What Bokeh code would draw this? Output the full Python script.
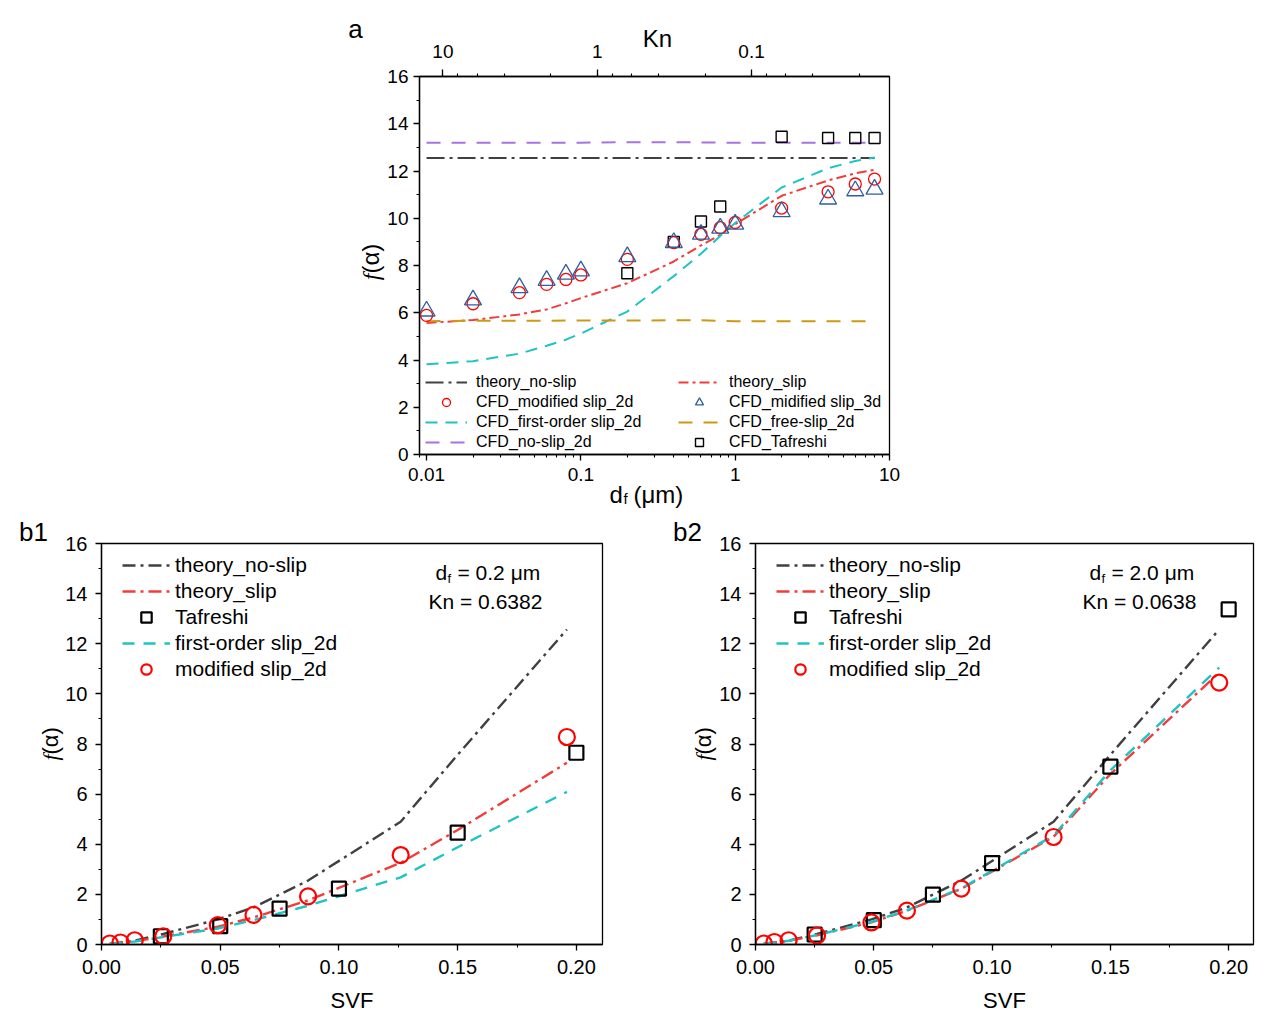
import math
from bokeh.plotting import figure
from bokeh.models import (Range1d, LogAxis, LogScale, Label, Legend, LegendItem,
                          CustomJSTickFormatter, NumeralTickFormatter,
                          SingleIntervalTicker, LogTicker)
from bokeh.layouts import column, row
from bokeh.embed import file_html
from bokeh.resources import INLINE

FONT = "Liberation Sans"
SERIF = "Liberation Serif"

GRAY = "#404040"
RED_L = "#F23C3C"
RED_M = "#FF0000"
CYAN = "#1EC3C3"
PURPLE = "#A673E0"
GOLD = "#CC9A12"
BLUE = "#2F5F9E"

# ---------------- data: panel a ----------------
df_line = [0.01, 0.02, 0.04, 0.06, 0.08, 0.1, 0.2, 0.4, 0.6, 0.8, 1.0, 2.0, 4.0, 6.0, 8.0]
theory_noslip_a = [12.55, 12.55, 12.55, 12.55, 12.55, 12.55, 12.55, 12.55, 12.55, 12.55, 12.55, 12.55, 12.55, 12.55, 12.55]
theory_slip_a = [5.57, 5.69, 5.93, 6.14, 6.40, 6.62, 7.25, 8.17, 8.85, 9.30, 9.75, 10.95, 11.60, 11.90, 12.05]
first_order_a = [3.82, 3.95, 4.27, 4.60, 4.86, 5.12, 6.05, 7.55, 8.50, 9.25, 9.80, 11.30, 12.12, 12.42, 12.57]
noslip_2d_a = [13.20, 13.20, 13.20, 13.20, 13.20, 13.20, 13.22, 13.22, 13.21, 13.20, 13.20, 13.20, 13.20, 13.20, 13.20]
freeslip_2d_a = [5.64, 5.66, 5.66, 5.66, 5.67, 5.67, 5.67, 5.68, 5.68, 5.66, 5.64, 5.64, 5.64, 5.64, 5.64]

df_pts = [0.01, 0.02, 0.04, 0.06, 0.08, 0.1, 0.2, 0.4, 0.6, 0.8, 1.0, 2.0, 4.0, 6.0, 8.0]
modified_2d_a = [5.89, 6.38, 6.85, 7.20, 7.41, 7.60, 8.26, 8.97, 9.32, 9.60, 9.82, 10.43, 11.12, 11.45, 11.66]
modified_3d_a = [6.07, 6.54, 7.06, 7.37, 7.63, 7.77, 8.37, 8.97, 9.32, 9.58, 9.75, 10.28, 10.81, 11.16, 11.23]

df_taf = [0.2, 0.4, 0.6, 0.8, 2.0, 4.0, 6.0, 8.0]
tafreshi_a = [7.67, 9.00, 9.86, 10.50, 13.45, 13.40, 13.40, 13.40]

KN_FACTOR = 0.1276  # Kn = KN_FACTOR / d_f
X_A = (0.009, 10.0)

# ---------------- data: panels b1, b2 ----------------
svf_theory = [0.0035, 0.008, 0.014, 0.026, 0.049, 0.064, 0.087, 0.126, 0.15, 0.196]
theory_noslip_b = [0.03, 0.08, 0.15, 0.42, 1.00, 1.48, 2.55, 4.90, 7.57, 12.57]
theory_slip_b1 = [0.03, 0.07, 0.13, 0.32, 0.71, 1.08, 1.76, 3.26, 4.57, 7.25]
first_order_b1 = [0.03, 0.06, 0.12, 0.30, 0.64, 0.97, 1.55, 2.68, 3.88, 6.09]
theory_slip_b2 = [0.03, 0.08, 0.15, 0.37, 0.88, 1.35, 2.22, 4.30, 6.80, 10.85]
first_order_b2 = [0.03, 0.08, 0.15, 0.38, 0.90, 1.36, 2.24, 4.35, 6.95, 11.05]

svf_mod = [0.0035, 0.008, 0.014, 0.026, 0.049, 0.064, 0.087, 0.126, 0.196]
modified_b1 = [0.04, 0.08, 0.17, 0.33, 0.77, 1.18, 1.92, 3.57, 8.28]
modified_b2 = [0.04, 0.10, 0.17, 0.36, 0.88, 1.35, 2.23, 4.29, 10.45]

svf_taf = [0.025, 0.05, 0.075, 0.10, 0.15, 0.20]
tafreshi_b1 = [0.33, 0.73, 1.43, 2.23, 4.46, 7.65]
tafreshi_b2 = [0.40, 0.97, 1.99, 3.25, 7.10, 13.37]

LOG_CODE = "return String(parseFloat(tick.toPrecision(6)));"


def style_axis(ax, size, tick_out=6, standoff=4):
    ax.axis_line_color = "black"
    ax.axis_line_width = 1.3
    ax.major_tick_line_color = "black"
    ax.major_tick_line_width = 1.3
    ax.minor_tick_line_color = "black"
    ax.minor_tick_line_width = 1.1
    ax.major_tick_in = 0
    ax.major_tick_out = tick_out
    ax.minor_tick_in = 0
    ax.minor_tick_out = 3
    ax.major_label_text_font = FONT
    ax.major_label_text_font_size = f"{size}px"
    ax.major_label_text_color = "black"
    ax.major_label_standoff = standoff


def lab(p, place, text, x, y, size, xu="screen", yu="screen", align="left",
        baseline="middle", angle=0.0, font=FONT, style="normal"):
    lbl = Label(x=x, y=y, x_units=xu, y_units=yu, text=text,
                text_font=font, text_font_size=f"{size}px",
                text_align=align, text_baseline=baseline, angle=angle,
                text_font_style=style, text_color="black")
    if place == "center":
        p.add_layout(lbl)
    else:
        p.add_layout(lbl, place)


def base_fig(fw, fh, left, right, top, bottom, **kw):
    p = figure(frame_width=fw, frame_height=fh, min_border_left=left,
               min_border_right=right, min_border_top=top, min_border_bottom=bottom,
               output_backend="svg", toolbar_location=None, **kw)
    p.xgrid.visible = False
    p.ygrid.visible = False
    p.outline_line_color = "black"
    p.outline_line_width = 1.3
    p.outline_line_alpha = 1.0
    p.background_fill_color = "white"
    p.border_fill_color = "white"
    return p


# ================= panel a =================
A_LEFT, A_FW, A_FH, A_BOTTOM_PX = 419, 470, 378, 454
pa = base_fig(A_FW, A_FH, A_LEFT, 380, 76, 59, x_axis_type="log",
              x_range=Range1d(*X_A), y_range=Range1d(0, 16))
pa.extra_x_ranges = {"kn": Range1d(start=KN_FACTOR / X_A[0], end=KN_FACTOR / X_A[1])}
pa.extra_x_scales = {"kn": LogScale()}
kn_axis = LogAxis(x_range_name="kn", ticker=LogTicker(),
                  formatter=CustomJSTickFormatter(code=LOG_CODE))
pa.add_layout(kn_axis, "above")

bottom_axis = pa.below[0]
bottom_axis.formatter = CustomJSTickFormatter(code=LOG_CODE)
pa.yaxis[0].ticker = SingleIntervalTicker(interval=2, num_minor_ticks=2)
style_axis(bottom_axis, 19, tick_out=6, standoff=7)
style_axis(kn_axis, 19, tick_out=7, standoff=12)
style_axis(pa.yaxis[0], 19, tick_out=6, standoff=5)


def xa(px):
    """screen pixel (page x) -> data x of panel a (log axis)"""
    l0, l1 = math.log10(X_A[0]), math.log10(X_A[1])
    return 10 ** (l0 + (px - A_LEFT) / A_FW * (l1 - l0))


r_ns = pa.line(df_line, theory_noslip_a, line_color=GRAY, line_width=2, line_dash="18 5 3 5")
r_sl = pa.line(df_line, theory_slip_a, line_color=RED_L, line_width=2, line_dash="10 4 3 4")
r_fo = pa.line(df_line, first_order_a, line_color=CYAN, line_width=2, line_dash="12 8")
r_n2 = pa.line(df_line, noslip_2d_a, line_color=PURPLE, line_width=2, line_dash="14 11")
r_fs = pa.line(df_line, freeslip_2d_a, line_color=GOLD, line_width=2, line_dash="14 11")
r_tf = pa.scatter(df_taf, tafreshi_a, marker="square", size=11, fill_color=None,
                  line_color="black", line_width=1.4)
r_m2 = pa.scatter(df_pts, modified_2d_a, marker="circle", size=12, fill_color=None,
                  line_color=RED_M, line_width=1.3)
r_m3 = pa.scatter(df_pts, modified_3d_a, marker="triangle", size=17, fill_color=None,
                  line_color=BLUE, line_width=1.3)

leg_kw = dict(orientation="vertical", glyph_width=42, glyph_height=20, label_height=20,
              spacing=0, padding=0, margin=0, label_standoff=9,
              background_fill_alpha=0, border_line_color=None,
              label_text_font=FONT, label_text_font_size="16px", label_text_color="black")
leg_a1 = Legend(items=[LegendItem(label="theory_no-slip", renderers=[r_ns]),
                       LegendItem(label="CFD_modified slip_2d", renderers=[r_m2]),
                       LegendItem(label="CFD_first-order slip_2d", renderers=[r_fo]),
                       LegendItem(label="CFD_no-slip_2d", renderers=[r_n2])],
                location=(6, 2), **leg_kw)
leg_a2 = Legend(items=[LegendItem(label="theory_slip", renderers=[r_sl]),
                       LegendItem(label="CFD_midified slip_3d", renderers=[r_m3]),
                       LegendItem(label="CFD_free-slip_2d", renderers=[r_fs]),
                       LegendItem(label="CFD_Tafreshi", renderers=[r_tf])],
                location=(259, 2), **leg_kw)
pa.add_layout(leg_a1)
pa.add_layout(leg_a2)

# texts outside the frame (left side panel, x in data units, y relative to frame bottom)
lab(pa, "left", "a", xa(355), A_BOTTOM_PX - 28, 26, xu="data", align="center")
lab(pa, "left", "Kn", xa(657), A_BOTTOM_PX - 38, 24, xu="data", align="center")
lab(pa, "left", "d", xa(609), A_BOTTOM_PX - 494, 24, xu="data", baseline="alphabetic")
lab(pa, "left", "f", xa(623), A_BOTTOM_PX - 498, 15, xu="data", baseline="alphabetic")
lab(pa, "left", "(\u03bcm)", xa(633), A_BOTTOM_PX - 494, 24, xu="data", baseline="alphabetic")
lab(pa, "left", "f", xa(370), A_BOTTOM_PX - 273, 24, xu="data", align="right",
    angle=math.pi / 2, font=SERIF, style="italic")
lab(pa, "left", " (\u03b1)", xa(370), A_BOTTOM_PX - 273, 24, xu="data", align="left",
    angle=math.pi / 2)


# ================= panels b =================
B_TOP_PX, B_BOTTOM_PX, B_FH = 543, 944, 401


def make_b(fw, left, right, frame_left_px, title_px, xmax, slip, first, modified, taf,
           tag, df_text, kn_text):
    p = base_fig(fw, B_FH, left, right, 30, 81, x_range=Range1d(0, xmax), y_range=Range1d(0, 16))
    p.xaxis[0].ticker = SingleIntervalTicker(interval=0.05, num_minor_ticks=2)
    p.xaxis[0].formatter = NumeralTickFormatter(format="0.00")
    p.yaxis[0].ticker = SingleIntervalTicker(interval=2, num_minor_ticks=2)
    style_axis(p.xaxis[0], 20, tick_out=6, standoff=9)
    style_axis(p.yaxis[0], 20, tick_out=6, standoff=8)
    p.xaxis[0].axis_label = "SVF"
    p.xaxis[0].axis_label_text_font = FONT
    p.xaxis[0].axis_label_text_font_size = "22px"
    p.xaxis[0].axis_label_text_font_style = "normal"
    p.xaxis[0].axis_label_text_color = "black"
    p.xaxis[0].axis_label_standoff = 11

    r1 = p.line(svf_theory, theory_noslip_b, line_color=GRAY, line_width=2.4, line_dash="13 5 3 5")
    r2 = p.line(svf_theory, slip, line_color=RED_L, line_width=2.4, line_dash="13 5 3 5")
    r4 = p.line(svf_theory, first, line_color=CYAN, line_width=2.4, line_dash="12 9")
    r3 = p.scatter(svf_taf, taf, marker="square", size=14, fill_color=None,
                   line_color="black", line_width=2.2)
    r5 = p.scatter(svf_mod, modified, marker="circle", size=16, fill_color=None,
                   line_color=RED_M, line_width=2.2)
    leg = Legend(items=[LegendItem(label="theory_no-slip", renderers=[r1]),
                        LegendItem(label="theory_slip", renderers=[r2]),
                        LegendItem(label="Tafreshi", renderers=[r3]),
                        LegendItem(label="first-order slip_2d", renderers=[r4]),
                        LegendItem(label="modified slip_2d", renderers=[r5])],
                 location=(21, 262), orientation="vertical", glyph_width=48,
                 glyph_height=26, label_height=26, spacing=0, padding=0, margin=0,
                 label_standoff=5, background_fill_alpha=0, border_line_color=None,
                 label_text_font=FONT, label_text_font_size="21px", label_text_color="black")
    p.add_layout(leg)

    ppu_x = fw / xmax
    ppu_y = B_FH / 16.0
    # panel tag above the frame (x relative to frame left, y in data units)
    lab(p, "above", tag, -68, 16 + (B_TOP_PX - 531) / ppu_y, 26, yu="data", align="center")
    # y-axis title in the left side panel (x in data units, y relative to frame bottom)
    x_title = (title_px - frame_left_px) / ppu_x
    lab(p, "left", "f", x_title, B_BOTTOM_PX - 754, 22, xu="data", align="right",
        angle=math.pi / 2, font=SERIF, style="italic")
    lab(p, "left", " (\u03b1)", x_title, B_BOTTOM_PX - 754, 22, xu="data", align="left",
        angle=math.pi / 2)
    # annotation inside the frame
    lab(p, "center", "d", 334, 372, 21)
    lab(p, "center", "f", 346, 366, 13)
    lab(p, "center", df_text, 356, 372, 21)
    lab(p, "center", kn_text, 327, 343, 21)
    return p


pb1 = make_b(501, 101, 38, 101, 50, 0.211, theory_slip_b1, first_order_b1, modified_b1,
             tafreshi_b1, "b1", "= 0.2 \u03bcm", "Kn = 0.6382")
pb2 = make_b(498, 115, 16, 755, 703, 0.2105, theory_slip_b2, first_order_b2, modified_b2,
             tafreshi_b2, "b2", "= 2.0 \u03bcm", "Kn = 0.0638")

layout = column(pa, row(pb1, pb2))
open("out.html", "w").write(file_html(layout, INLINE))
